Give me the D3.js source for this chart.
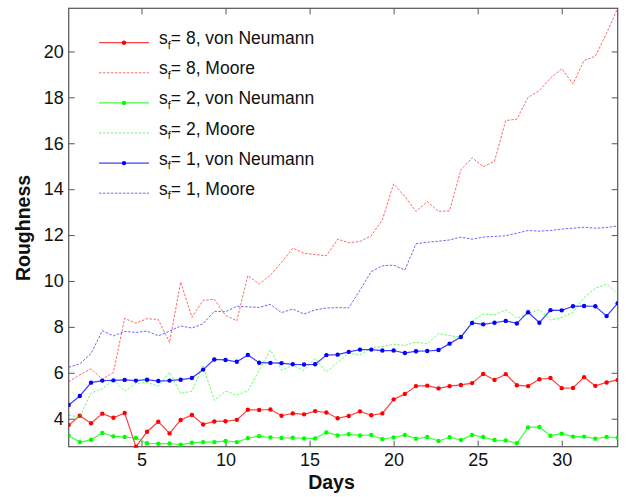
<!DOCTYPE html>
<html>
<head>
<meta charset="utf-8">
<script src="https://cdn.jsdelivr.net/npm/d3@7"></script>
<style>
  html, body { margin: 0; padding: 0; background: #fff; }
  svg { display: block; font-family: "Liberation Sans", Arial, sans-serif; }
</style>
</head>
<body>
<svg id="chart" width="627" height="497"></svg>
<script>
const days = [0.67, 1.33, 2.00, 2.67, 3.33, 4.00, 4.67, 5.33, 6.00, 6.67,
  7.33, 8.00, 8.67, 9.33, 10.00, 10.67, 11.33, 12.00, 12.67, 13.33,
  14.00, 14.67, 15.33, 16.00, 16.67, 17.33, 18.00, 18.67, 19.33, 20.00,
  20.67, 21.33, 22.00, 22.67, 23.33, 24.00, 24.67, 25.33, 26.00, 26.67,
  27.33, 28.00, 28.67, 29.33, 30.00, 30.67, 31.33, 32.00, 32.67, 33.33];

const redVN = [3.72, 4.13, 3.80, 4.22, 4.04, 4.25, 2.78, 3.43, 3.87, 3.36,
  3.94, 4.16, 3.75, 3.88, 3.89, 3.95, 4.39, 4.38, 4.40, 4.13,
  4.23, 4.19, 4.33, 4.27, 4.02, 4.12, 4.32, 4.15, 4.23, 4.84,
  5.08, 5.42, 5.44, 5.32, 5.42, 5.47, 5.55, 5.95, 5.69, 5.94,
  5.46, 5.42, 5.72, 5.77, 5.33, 5.34, 5.81, 5.43, 5.58, 5.69];

const redMoore = [5.61, 5.91, 6.17, 5.72, 6.02, 8.37, 8.16, 8.36, 8.32, 7.32,
  9.95, 8.42, 9.16, 9.20, 8.50, 8.27, 10.24, 9.86, 10.25, 10.81,
  11.43, 11.21, 11.15, 11.10, 11.82, 11.67, 11.72, 11.97, 12.67, 14.23,
  13.68, 13.03, 13.46, 13.03, 13.06, 14.84, 15.37, 14.98, 15.21, 16.99,
  17.05, 18.00, 18.30, 18.84, 19.25, 18.59, 19.61, 19.79, 20.80, 21.88];

const greenVN = [3.26, 2.98, 3.08, 3.38, 3.23, 3.20, 3.16, 2.93, 2.91, 2.92,
  2.87, 2.95, 2.98, 2.98, 3.03, 2.98, 3.15, 3.24, 3.18, 3.16,
  3.17, 3.14, 3.14, 3.40, 3.27, 3.32, 3.27, 3.29, 3.11, 3.18,
  3.29, 3.13, 3.20, 3.03, 3.19, 3.07, 3.29, 3.20, 3.07, 3.05,
  2.93, 3.62, 3.64, 3.26, 3.35, 3.22, 3.22, 3.13, 3.21, 3.17];

const greenMoore = [4.15, 4.07, 5.12, 5.30, 5.70, 5.20, 5.54, 5.58, 5.42, 6.02,
  5.10, 5.20, 6.29, 4.80, 5.20, 5.03, 5.22, 6.10, 6.99, 6.12,
  6.33, 6.10, 6.63, 6.04, 6.45, 6.85, 6.78, 7.07, 7.15, 7.24,
  7.19, 7.34, 7.26, 7.71, 7.62, 7.55, 8.25, 8.56, 8.52, 8.74,
  8.38, 8.57, 8.74, 8.30, 8.41, 8.63, 9.28, 9.68, 9.86, 9.45];

const blueVN = [4.60, 4.99, 5.57, 5.66, 5.67, 5.69, 5.66, 5.70, 5.64, 5.66,
  5.70, 5.77, 6.14, 6.58, 6.56, 6.48, 6.78, 6.44, 6.43, 6.42,
  6.37, 6.36, 6.37, 6.77, 6.79, 6.91, 7.01, 7.01, 6.97, 6.97,
  6.86, 6.94, 6.95, 6.99, 7.27, 7.56, 8.17, 8.11, 8.18, 8.26,
  8.15, 8.64, 8.18, 8.73, 8.72, 8.90, 8.91, 8.90, 8.47, 9.03];

const blueMoore = [6.24, 6.39, 6.84, 7.83, 7.61, 7.80, 7.76, 7.82, 7.61, 7.82,
  8.04, 7.95, 8.14, 8.68, 8.66, 8.90, 8.87, 8.85, 8.98, 8.62,
  8.78, 8.56, 8.74, 8.82, 8.84, 8.83, 9.60, 10.41, 10.66, 10.69,
  10.48, 11.62, 11.69, 11.73, 11.79, 11.91, 11.82, 11.91, 11.94, 11.97,
  12.08, 12.20, 12.17, 12.20, 12.26, 12.30, 12.34, 12.30, 12.33, 12.40];

const seriesNames = ["8, von Neumann", "8, Moore", "2, von Neumann", "2, Moore", "1, von Neumann", "1, Moore"];
const seriesValues = [redVN, redMoore, greenVN, greenMoore, blueVN, blueMoore];
const seriesColors = ["#ff0000", "#ff0000", "#00ff00", "#00ff00", "#0000ff", "#0000ff"];
const seriesDashed = [false, true, false, true, false, true];

const xTicks = [5, 10, 15, 20, 25, 30];
const yTicks = [4, 6, 8, 10, 12, 14, 16, 18, 20];

const svg = d3.select("#chart");
const L = 68.7, R = 617.7, T = 8.3, B = 446.7;

const allVals = seriesValues.flat();
const x = d3.scaleLinear().domain([days[0], days[days.length - 1]]).range([L, R]);
const y = d3.scaleLinear().domain(d3.extent(allVals)).range([B, T]);

svg.append("defs").append("clipPath").attr("id", "clip")
  .append("rect").attr("x", L).attr("y", T - 1).attr("width", R - L).attr("height", B - T + 2);

const axisColor = "#555";
const tickLen = 6;

const gB = svg.append("g").attr("transform", `translate(0,${B})`)
  .call(d3.axisBottom(x).tickValues(xTicks).tickSize(-tickLen).tickPadding(7).tickFormat(d3.format("d")));
const gT = svg.append("g").attr("transform", `translate(0,${T})`)
  .call(d3.axisTop(x).tickValues(xTicks).tickSize(-tickLen).tickFormat(""));
const gL = svg.append("g").attr("transform", `translate(${L},0)`)
  .call(d3.axisLeft(y).tickValues(yTicks).tickSize(-tickLen).tickPadding(5).tickFormat(d3.format("d")));
const gR = svg.append("g").attr("transform", `translate(${R},0)`)
  .call(d3.axisRight(y).tickValues(yTicks).tickSize(-tickLen).tickFormat(""));

[gB, gT, gL, gR].forEach(g => {
  g.select(".domain").remove();
  g.selectAll(".tick line").attr("stroke", axisColor).attr("stroke-width", 1);
  g.selectAll(".tick text").attr("fill", "#111").style("font-size", "18px")
    .style("font-family", "'Liberation Sans', Arial, sans-serif");
});

svg.append("rect").attr("x", L).attr("y", T).attr("width", R - L).attr("height", B - T)
  .attr("fill", "none").attr("stroke", axisColor).attr("stroke-width", 1.2);

const plot = svg.append("g").attr("clip-path", "url(#clip)");
const line = d3.line().x((d, i) => x(days[i])).y(d => y(d));

function styleLine(sel, dashed) {
  if (dashed) {
    sel.attr("stroke-width", 1).attr("stroke-dasharray", "2.5,1.5").attr("stroke-opacity", 0.6);
  } else {
    sel.attr("stroke-width", 1.2).attr("stroke-opacity", 0.75);
  }
}

seriesValues.forEach((vals, k) => {
  const p = plot.append("path").datum(vals)
    .attr("fill", "none")
    .attr("stroke", seriesColors[k])
    .attr("d", line);
  styleLine(p, seriesDashed[k]);
  if (!seriesDashed[k]) {
    plot.append("g").selectAll("circle").data(vals).join("circle")
      .attr("cx", (d, i) => x(days[i])).attr("cy", d => y(d)).attr("r", 2.2)
      .attr("fill", seriesColors[k]);
  }
});

// Legend
const legend = svg.append("g");
const legX0 = 99, legX1 = 149, legTextX = 159, legY0 = 42.7, legDy = 30.1;
seriesNames.forEach((name, k) => {
  const yy = legY0 + k * legDy;
  const ln = legend.append("line").attr("x1", legX0).attr("x2", legX1).attr("y1", yy).attr("y2", yy)
    .attr("stroke", seriesColors[k]);
  styleLine(ln, seriesDashed[k]);
  if (!seriesDashed[k]) {
    legend.append("circle").attr("cx", (legX0 + legX1) / 2).attr("cy", yy).attr("r", 2.2).attr("fill", seriesColors[k]);
  }
  const t = legend.append("text").attr("x", legTextX).attr("y", yy + 1.5)
    .attr("fill", "#111").style("font-size", "17.5px");
  t.append("tspan").text("s");
  t.append("tspan").attr("dy", 4.5).style("font-size", "11px").text("f");
  t.append("tspan").attr("dy", -4.5).text("= " + name);
});

// Axis titles
svg.append("text").attr("x", 331.5).attr("y", 489).attr("text-anchor", "middle")
  .style("font-size", "19.5px").style("font-weight", "bold").attr("fill", "#111").text("Days");
svg.append("text").attr("transform", `translate(29.5,228) rotate(-90)`).attr("text-anchor", "middle")
  .style("font-size", "19.5px").style("font-weight", "bold").attr("fill", "#111").text("Roughness");
</script>
</body>
</html>
